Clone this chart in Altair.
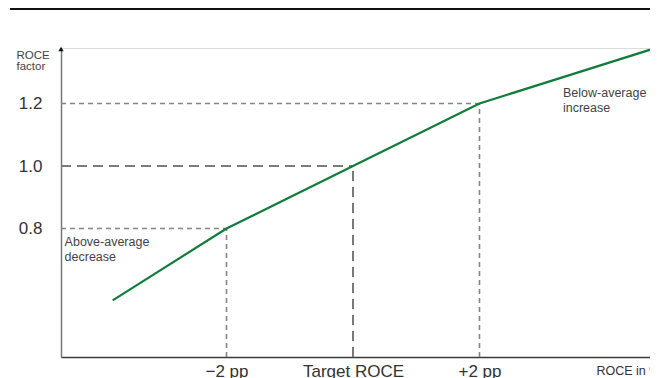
import altair as alt
import pandas as pd

# ---- data ----
dev_pp = [-3.8, -2, 0, 2, 4.9]          # ROCE deviation from target (pp)
factor = [0.57, 0.8, 1.0, 1.2, 1.385]   # ROCE factor

thresh_x = [-2, 0, 2]
thresh_y = [0.8, 1.0, 1.2]
x_tick_labels = ["\u22122 pp", "Target ROCE", "+2 pp"]
y_tick_values = [0.8, 1.0, 1.2]

ann_text = [["Above-average", "decrease"], ["Below-average", "increase"]]
ann_x = [-4.56, 3.32]
ann_y = [0.775, 1.253]

X_MIN, X_MAX = -4.617, 4.696
Y_MIN, Y_MAX = 0.3888, 1.3776

green = "#127c3c"
font = "Liberation Sans"

xs = alt.Scale(domain=[X_MIN, X_MAX], nice=False, zero=False)
ys = alt.Scale(domain=[Y_MIN, Y_MAX], nice=False, zero=False)

line_df = pd.DataFrame({"x": dev_pp, "y": factor})

label_arr = "[" + ",".join(f"'{s}'" for s in x_tick_labels) + "]"
val_arr = "[" + ",".join(str(v) for v in thresh_x) + "]"

line = alt.Chart(line_df).mark_line(color=green, strokeWidth=2.2).encode(
    x=alt.X("x:Q", scale=xs, axis=alt.Axis(
        values=thresh_x, labelExpr=f"{label_arr}[indexof({val_arr}, datum.value)]",
        ticks=False, grid=False, labelFontSize=17, labelColor="#333", labelFont=font,
        labelPadding=6, labelBaseline="top", domainColor="#3a3a3a", domainWidth=1.5,
        title="ROCE in %", titleFont=font, titleFontSize=12.5, titleFontWeight="normal",
        titleColor="#333", titleAnchor="start", titleAlign="left", titleBaseline="top",
        titleX=535, titleY=7)),
    y=alt.Y("y:Q", scale=ys, axis=alt.Axis(
        values=y_tick_values, format=".1f", ticks=False, grid=False,
        labelFontSize=17, labelColor="#333", labelFont=font, labelPadding=19,
        domainColor="#777", domainWidth=1.5,
        title=["ROCE", "factor"], titleFont=font, titleFontSize=11.5,
        titleFontWeight="normal", titleColor="#444", titleAngle=0,
        titleAlign="left", titleBaseline="top", titleX=-45, titleY=1,
        titleLineHeight=11)),
)

# reference segments
seg_rows = []
for tx, ty in zip(thresh_x, thresh_y):
    kind = "target" if tx == 0 else "side"
    seg_rows.append({"x": X_MIN, "x2": tx, "y": ty, "y2": ty, "kind": kind})
    seg_rows.append({"x": tx, "x2": tx, "y": Y_MIN, "y2": ty, "kind": kind})
seg_df = pd.DataFrame(seg_rows)

side = alt.Chart(seg_df).transform_filter("datum.kind == 'side'").mark_rule(
    color="#858585", strokeWidth=1.6, strokeDash=[5, 4]).encode(
    x=alt.X("x:Q", scale=xs), x2="x2:Q", y=alt.Y("y:Q", scale=ys), y2="y2:Q")
target = alt.Chart(seg_df).transform_filter("datum.kind == 'target'").mark_rule(
    color="#7a7a7a", strokeWidth=2, strokeDash=[10, 6]).encode(
    x=alt.X("x:Q", scale=xs), x2="x2:Q", y=alt.Y("y:Q", scale=ys), y2="y2:Q")

ann_df = pd.DataFrame({"x": ann_x, "y": ann_y, "t": ann_text})
ann = alt.Chart(ann_df).mark_text(
    align="left", baseline="top", font=font, fontSize=12.5, color="#444",
    lineHeight=15).encode(
    x=alt.X("x:Q", scale=xs), y=alt.Y("y:Q", scale=ys), text="t")

arrow = alt.Chart(pd.DataFrame({"x": [X_MIN], "y": [Y_MAX]})).mark_point(
    shape="triangle-up", filled=True, color="#111", size=28, opacity=1, yOffset=1).encode(
    x=alt.X("x:Q", scale=xs), y=alt.Y("y:Q", scale=ys))

topline = alt.Chart(pd.DataFrame({"a": [0]})).mark_rule(
    color="#111", strokeWidth=2.2).encode(
    x=alt.value(-51), x2=alt.value(600), y=alt.value(-39))

chart = alt.layer(topline, side, target, line, ann, arrow).properties(
    width=589, height=309,
    autosize=alt.AutoSizeParams(type="none"),
    padding={"left": 53, "top": 40, "right": 0, "bottom": 21},
).configure_view(strokeWidth=0).configure(background="white")

chart.save("out.html", embed_options={"renderer": "svg", "actions": False})
